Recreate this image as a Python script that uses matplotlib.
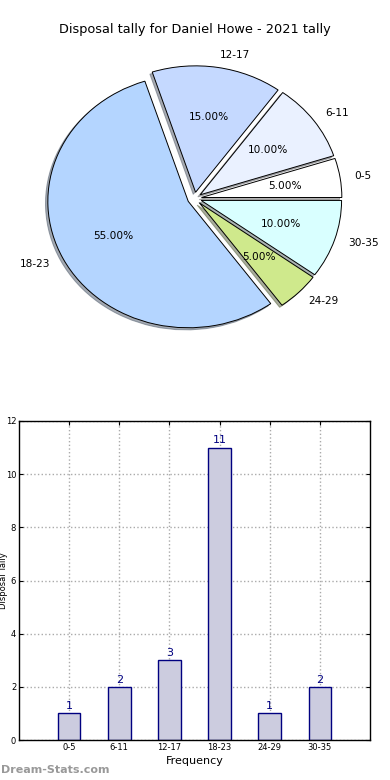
import matplotlib
matplotlib.use("Agg")
import matplotlib.pyplot as plt

categories = ["0-5", "6-11", "12-17", "18-23", "24-29", "30-35"]
counts = [1, 2, 3, 11, 1, 2]
pie_colors = ["#ffffff", "#eaf1ff", "#c5d9ff", "#b4d5ff", "#cfe98c", "#d9ffff"]
explode = [0.05] * 6
title = "Disposal tally for Daniel Howe - 2021 tally"
yticks = [0, 2, 4, 6, 8, 10, 12]

fig = plt.figure(figsize=(3.9, 7.8), dpi=100)
fig.patch.set_facecolor("white")

# Pie chart (elliptical as in old matplotlib without equal aspect)
ax1 = fig.add_axes([19/390, 1 - 356.5/780, 351/390, 316/780])
wedges, texts, autotexts = ax1.pie(
    counts, labels=categories, colors=pie_colors, explode=explode,
    autopct="%1.2f%%", shadow={"ox": -0.012, "oy": -0.012, "shade": 0.6},
    startangle=0,
    wedgeprops=dict(edgecolor="black", linewidth=0.7),
    textprops=dict(fontsize=7.6, color="black"))
ax1.set_aspect("auto")
ax1.set_xlim(-1.25, 1.25)
ax1.set_ylim(-1.25, 1.25)
fig.text(0.5, 1 - 30/780, title, ha="center", va="center", fontsize=9.3)

# Bar chart
ax2 = fig.add_axes([19/390, 40/780, 351/390, 319/780])
x = list(range(len(categories)))
bars = ax2.bar(x, counts, width=0.45, color="#ccccdf", edgecolor="#000080",
               linewidth=1.0, zorder=2)
for xi, c in zip(x, counts):
    ax2.text(xi, c + 0.08, str(c), ha="center", va="bottom", fontsize=8,
             color="#000080", zorder=3)
ax2.set_xlim(-1, 6)
ax2.set_ylim(0, 12)
ax2.set_xticks(x)
ax2.set_xticklabels(categories, fontsize=6)
ax2.set_yticks(yticks)
ax2.set_yticklabels([str(v) for v in yticks], fontsize=6)
ax2.tick_params(direction="in", top=True, right=True, length=3, pad=2)
ax2.grid(True, linestyle=":", color="#aaaaaa", linewidth=1.0, zorder=0)
ax2.set_axisbelow(True)
ax2.set_xlabel("Frequency", fontsize=8, labelpad=3)
ax2.set_ylabel("Disposal Tally", fontsize=6)
ax2.yaxis.set_label_coords(-0.031, 0.5)
for s in ax2.spines.values():
    s.set_linewidth(1.0)

fig.text(0.002, 1 - 770/780, "Dream-Stats.com", ha="left", va="center",
         fontsize=8, color="#999999", fontweight="bold")

fig.savefig("out.png", dpi=100)
